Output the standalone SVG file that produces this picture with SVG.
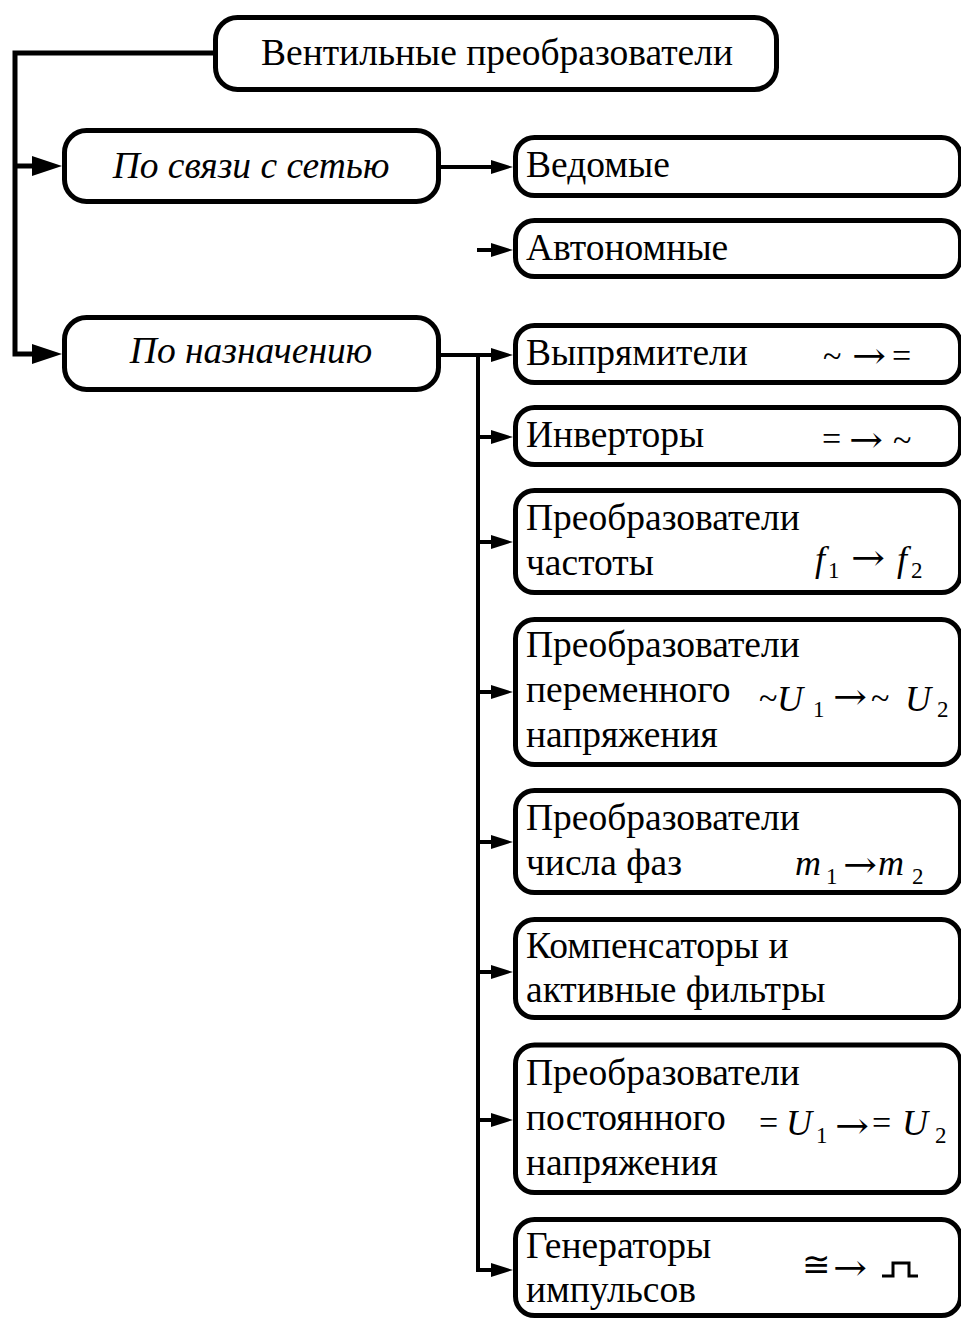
<svg xmlns="http://www.w3.org/2000/svg" width="961" height="1320" viewBox="0 0 961 1320">
<style>
.box{fill:#fff;stroke:#000;stroke-width:5}
.t{font-family:"Liberation Serif","Times New Roman",serif;font-size:37.5px;fill:#000}
.ti{font-family:"Liberation Serif","Times New Roman",serif;font-size:37.5px;font-style:italic;fill:#000}
.f{font-family:"Liberation Serif","DejaVu Serif",serif;font-size:34px;fill:#000}
.fi{font-family:"Liberation Serif",serif;font-size:36px;font-style:italic;fill:#000}
.sub{font-family:"Liberation Serif",serif;font-size:23px;fill:#000}
.ar{font-family:"DejaVu Serif",serif;font-size:36px;fill:#000}
.cl{fill:none;stroke:#000;stroke-width:5}
.cr{fill:none;stroke:#000;stroke-width:4}
</style>
<defs>
<marker id="ab" markerUnits="userSpaceOnUse" viewBox="0 0 30 20" markerWidth="30" markerHeight="20" refX="8" refY="10" orient="auto"><path d="M0,0 L30,10 L0,20 z" fill="#000"/></marker>
<marker id="as" markerUnits="userSpaceOnUse" viewBox="0 0 22 14" markerWidth="22" markerHeight="14" refX="9" refY="7" orient="auto"><path d="M0,0 L22,7 L0,14 z" fill="#000"/></marker>
</defs>
<g id="connectors">
<path class="cl" d="M213,53 H15 V354 H40" marker-end="url(#ab)"/>
<path class="cl" d="M15,166 H40" marker-end="url(#ab)"/>
<path class="cr" d="M441,167 H500" marker-end="url(#as)"/>
<path class="cr" d="M477,250 H500" marker-end="url(#as)"/>
<path class="cr" d="M441,355 H500" marker-end="url(#as)"/>
<path class="cr" d="M478,355 V1270 H500" marker-end="url(#as)"/>
<path class="cr" d="M478,437 H500" marker-end="url(#as)"/>
<path class="cr" d="M478,542 H500" marker-end="url(#as)"/>
<path class="cr" d="M478,692 H500" marker-end="url(#as)"/>
<path class="cr" d="M478,842 H500" marker-end="url(#as)"/>
<path class="cr" d="M478,972 H500" marker-end="url(#as)"/>
<path class="cr" d="M478,1120 H500" marker-end="url(#as)"/>
</g>
<g id="n-root">
<rect class="box" x="215.5" y="17.5" width="561" height="72" rx="22"/>
<text class="t" x="497" y="65" text-anchor="middle">Вентильные преобразователи</text>
</g>
<g id="n-svyaz">
<rect class="box" x="64.5" y="130.5" width="374" height="71" rx="22"/>
<text class="ti" x="251" y="178" text-anchor="middle">По связи с сетью</text>
</g>
<g id="n-naznach">
<rect class="box" x="64.5" y="317.5" width="374" height="72" rx="22"/>
<text class="ti" x="251" y="363" text-anchor="middle">По назначению</text>
</g>
<g id="n-vedomye">
<rect class="box" x="515.5" y="137.5" width="445" height="58" rx="19"/>
<text class="t" x="526" y="177">Ведомые</text>
</g>
<g id="n-avtonom">
<rect class="box" x="515.5" y="220.5" width="445" height="56" rx="19"/>
<text class="t" x="526" y="260">Автономные</text>
</g>
<g id="n-vypr">
<rect class="box" x="515.5" y="325.5" width="445" height="57" rx="19"/>
<text class="t" x="526" y="365">Выпрямители</text>
<text class="f" x="823" y="367">~</text>
<text class="ar" x="852" y="368" textLength="34" lengthAdjust="spacingAndGlyphs">→</text>
<text class="f" x="892" y="367">=</text>
</g>
<g id="n-invert">
<rect class="box" x="515.5" y="407.5" width="445" height="57" rx="19"/>
<text class="t" x="526" y="447">Инверторы</text>
<text class="f" x="822" y="450">=</text>
<text class="ar" x="849" y="452" textLength="34" lengthAdjust="spacingAndGlyphs">→</text>
<text class="f" x="893" y="451">~</text>
</g>
<g id="n-chast">
<rect class="box" x="515.5" y="490.5" width="445" height="102" rx="19"/>
<text class="t" x="526" y="530">Преобразователи</text>
<text class="t" x="526" y="575">частоты</text>
<text class="fi" x="815" y="571">f</text>
<text class="sub" x="828" y="578">1</text>
<text class="ar" x="851" y="570" textLength="34" lengthAdjust="spacingAndGlyphs">→</text>
<text class="fi" x="897" y="571">f</text>
<text class="sub" x="911" y="578">2</text>
</g>
<g id="n-perem">
<rect class="box" x="515.5" y="619.5" width="445" height="145" rx="19"/>
<text class="t" x="526" y="657">Преобразователи</text>
<text class="t" x="526" y="702">переменного</text>
<text class="t" x="526" y="747">напряжения</text>
<text class="f" x="759" y="709">~</text>
<text class="fi" x="777" y="711">U</text>
<text class="sub" x="813" y="717">1</text>
<text class="ar" x="833" y="709" textLength="34" lengthAdjust="spacingAndGlyphs">→</text>
<text class="f" x="871" y="709">~</text>
<text class="fi" x="905" y="711">U</text>
<text class="sub" x="937" y="717">2</text>
</g>
<g id="n-faz">
<rect class="box" x="515.5" y="790.5" width="445" height="102" rx="19"/>
<text class="t" x="526" y="830">Преобразователи</text>
<text class="t" x="526" y="875">числа фаз</text>
<text class="fi" x="795" y="875">m</text>
<text class="sub" x="826" y="884">1</text>
<text class="ar" x="843" y="877" textLength="34" lengthAdjust="spacingAndGlyphs">→</text>
<text class="fi" x="878" y="875">m</text>
<text class="sub" x="912" y="884">2</text>
</g>
<g id="n-komp">
<rect class="box" x="515.5" y="919.5" width="445" height="98" rx="19"/>
<text class="t" x="526" y="958">Компенсаторы и</text>
<text class="t" x="526" y="1002">активные фильтры</text>
</g>
<g id="n-postoyan">
<rect class="box" x="515.5" y="1045" width="445" height="147.5" rx="19"/>
<text class="t" x="526" y="1085">Преобразователи</text>
<text class="t" x="526" y="1130">постоянного</text>
<text class="t" x="526" y="1175">напряжения</text>
<text class="f" x="759" y="1134">=</text>
<text class="fi" x="786" y="1135">U</text>
<text class="sub" x="816" y="1143">1</text>
<text class="ar" x="835" y="1138" textLength="34" lengthAdjust="spacingAndGlyphs">→</text>
<text class="f" x="872" y="1134">=</text>
<text class="fi" x="902" y="1135">U</text>
<text class="sub" x="935" y="1143">2</text>
</g>
<g id="n-gen">
<rect class="box" x="515.5" y="1219.5" width="445" height="96" rx="19"/>
<text class="t" x="526" y="1258">Генераторы</text>
<text class="t" x="526" y="1302">импульсов</text>
<text class="f" x="802" y="1276">≅</text>
<text class="ar" x="833" y="1280" textLength="34" lengthAdjust="spacingAndGlyphs">→</text>
<path d="M882,1276 H893 V1263 H909 V1276 H918" fill="none" stroke="#000" stroke-width="3"/>
</g>
</svg>
